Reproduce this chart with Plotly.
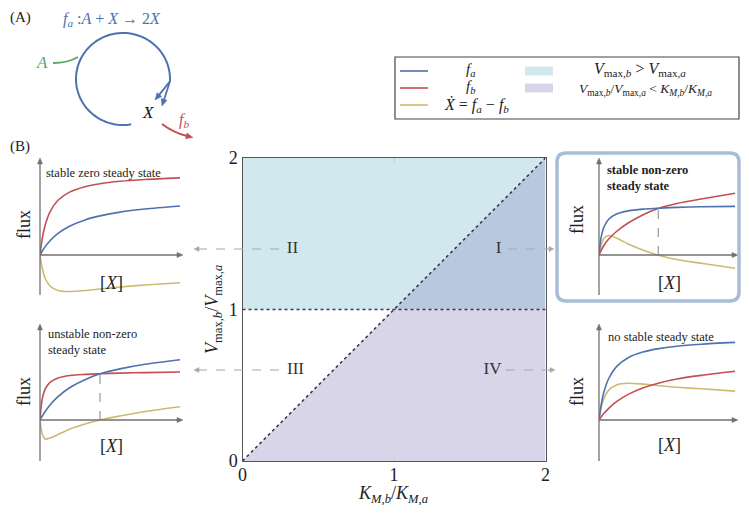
import numpy as np
import plotly.graph_objects as go

OX, OY = 8, 8  # page offset of the plot div inside the browser page
W, H = 749 - OX, 513 - 2 * OY
SERIF = "Liberation Serif, DejaVu Serif, serif"
BLUE = "#4C72B0"
RED = "#C44E52"
GOLD = "#CCB974"
GREEN = "#55A868"
C_VMAX = "#d1e8ef"
C_KM = "#d9d5e8"
C_BOTH = "#b7c9df"

# ---- phase diagram data ----
ratio_ticks = [0, 1, 2]
region_I_x = [1, 2, 2]
region_I_y = [1, 2, 1]
region_II_x = [0, 0, 2, 1]
region_II_y = [1, 2, 2, 1]
region_IV_x = [0, 2, 2, 1]
region_IV_y = [0, 0, 1, 1]
diag_x = [0, 2]
diag_y = [0, 2]
vmax_x = [0, 2]
vmax_y = [1, 1]
region_labels = ["I", "II", "III", "IV"]
region_label_x = [1.69, 0.33, 0.35, 1.65]
region_label_y = [1.40, 1.40, 0.60, 0.60]

# ---- flux sketches, [X] vs flux (arbitrary units) ----
conc = [0, 2, 5, 10, 18, 30, 45, 60, 80, 105, 140]
# II: stable zero steady state
fa_II = [0, 3.5, 8.1, 14.3, 21.6, 29.0, 35.1, 39.1, 42.9, 46.0, 49.0]
fb_II = [0, 14.9, 29.3, 43.2, 54.7, 63.1, 68.3, 71.3, 73.7, 75.5, 77.1]
xd_II = [0, -12, -23, -31, -35.5, -36.5, -35.5, -34, -32, -30, -27.7]
# III: unstable non-zero steady state
fa_III = [0, 3.5, 8.3, 15.0, 23.4, 32.5, 40.3, 46.2, 51.1, 55.7, 60.3]
fb_III = [0, 19.6, 30.6, 37.7, 42.0, 44.5, 45.6, 46.2, 46.9, 47.4, 48.0]
xd_III = [0, -13, -19, -18, -14.5, -9, -4, 0, 4, 8.5, 13.3]
ss_III = [60, 46.2]
# I: stable non-zero steady state
fa_I = [0, 16.7, 27.8, 35.7, 40.9, 44.1, 45.9, 46.7, 47.6, 48.2, 48.6]
fb_I = [0, 4, 9.5, 16, 23.5, 32, 40, 46.3, 51.5, 56, 61.7]
xd_I = [0, 9, 16.5, 19.5, 17, 11, 5, 0, -4.5, -8.3, -13.3]
ss_I = [61, 46.6]
# IV: no stable steady state
fa_IV = [0, 13.8, 27.7, 41.5, 53.4, 62.3, 67.9, 71.1, 73.8, 75.8, 77.6]
fb_IV = [0, 2.7, 6.4, 11.6, 18.3, 25.6, 32.0, 36.6, 41.0, 44.6, 48.7]
xd_IV = [0, 11.1, 21.3, 29.9, 35.1, 36.7, 35.9, 34.5, 32.8, 31.2, 28.9]


def X(p):
    return (p - OX) / W


def Y(p):
    return 1 - (p - OY) / H


def path(pts, close=False):
    s = "M " + " L ".join(f"{X(a):.5f},{Y(b):.5f}" for a, b in pts)
    return s + (" Z" if close else "")


shapes = []


def arrowhead(tip, tail, col, length=7, half=3):
    # small filled triangle at tip, pointing away from tail (page pixels)
    d = np.array(tip, float) - np.array(tail, float)
    d /= np.hypot(*d)
    n = np.array([-d[1], d[0]])
    base = np.array(tip) - d * length
    pts = [tuple(base + n * half), tuple(tip), tuple(base - n * half)]
    shapes.append(dict(type="path", xref="paper", yref="paper", path=path(pts, True),
                       fillcolor=col, line=dict(color=col, width=0.5)))


def seg(p0, p1, col, width=1.3, dash="solid"):
    shapes.append(dict(type="line", xref="paper", yref="paper", x0=X(p0[0]), x1=X(p1[0]),
                       y0=Y(p0[1]), y1=Y(p1[1]), line=dict(color=col, width=width, dash=dash)))


fig = go.Figure()

# main phase diagram
for xs, ys, col in [(region_II_x, region_II_y, C_VMAX),
                    (region_IV_x, region_IV_y, C_KM),
                    (region_I_x, region_I_y, C_BOTH)]:
    fig.add_trace(go.Scatter(x=xs, y=ys, fill="toself", fillcolor=col, mode="none",
                             hoverinfo="skip", showlegend=False))
for xs, ys in [(diag_x, diag_y), (vmax_x, vmax_y)]:
    fig.add_trace(go.Scatter(x=xs, y=ys, mode="lines", showlegend=False,
                             line=dict(color="#3a3a4a", width=1.6, dash="dot")))
fig.add_trace(go.Scatter(x=region_label_x, y=region_label_y, text=region_labels, mode="text",
                         textfont=dict(family=SERIF, size=17, color="#333"), showlegend=False))

panels = [
    (2, conc, fa_II, fb_II, xd_II, None, (40, 183), (158, 295), (-40, 97)),
    (3, conc, fa_III, fb_III, xd_III, ss_III, (40, 183), (324, 461), (-41, 96)),
    (4, conc, fa_I, fb_I, xd_I, ss_I, (599, 738), (158, 295), (-40, 97)),
    (5, conc, fa_IV, fb_IV, xd_IV, None, (599, 738), (324, 461), (-41, 96)),
]

ann = []
layout_axes = {}
AX_COL = "#707070"
for k, xs, fa, fb, xd, ss, dx, dy, yr in panels:
    xa, ya = f"x{k}", f"y{k}"
    if ss:
        fig.add_trace(go.Scatter(x=[ss[0], ss[0]], y=[0, ss[1]], mode="lines", xaxis=xa, yaxis=ya,
                                 line=dict(color="#999", width=1.2, dash="dash"), showlegend=False))
    for vals, col in [(xd, GOLD), (fb, RED), (fa, BLUE)]:
        fig.add_trace(go.Scatter(x=xs, y=vals, mode="lines", xaxis=xa, yaxis=ya, showlegend=False,
                                 line=dict(color=col, width=1.6, shape="spline", smoothing=0.8)))
    layout_axes[f"xaxis{k}"] = dict(domain=[X(dx[0]), X(dx[1])], range=[0, 143],
                                    visible=False, anchor=ya)
    layout_axes[f"yaxis{k}"] = dict(domain=[Y(dy[1]), Y(dy[0])], range=list(yr),
                                    visible=False, anchor=xa)
    oy = dy[0] + yr[1]
    seg((dx[0], oy), (dx[1] - 5, oy), AX_COL, 1.3)
    arrowhead((dx[1], oy), (dx[0], oy), AX_COL, 6, 2.5)
    seg((dx[0], dy[1]), (dx[0], dy[0] + 5), AX_COL, 1.3)
    arrowhead((dx[0], dy[0]), (dx[0], dy[1]), AX_COL, 6, 2.5)


def txt(x, y, s, size=15, color="#222", xanchor="center", angle=0, family=SERIF, align="center"):
    ann.append(dict(x=X(x), y=Y(y), xref="paper", yref="paper", text=s, showarrow=False,
                    xanchor=xanchor, yanchor="middle", textangle=angle, align=align,
                    font=dict(family=family, size=size, color=color)))


# panel texts
for fx, fy in [(24, 225), (24, 392), (577, 220), (577, 392)]:
    txt(fx, fy, "flux", size=18, angle=-90)
for fx, fy in [(111, 283), (111, 446), (669, 283), (669, 445)]:
    txt(fx, fy, "[<i>X</i>]", size=18)
txt(44, 173, "stable zero steady state", size=12.5, xanchor="left")
txt(46, 342, "unstable non-zero<br>steady state", size=12.5, xanchor="left", align="left")
txt(605, 178, "<b>stable non-zero<br>steady state</b>", size=12.5, xanchor="left", align="left")
txt(606, 337, "no stable steady state", size=12.5, xanchor="left")

# axis titles of main plot
txt(213, 310, "<i>V</i><sub>max,<i>b</i></sub>/<i>V</i><sub>max,<i>a</i></sub>", size=18, angle=-90)
txt(393, 494, "<i>K</i><sub><i>M</i>,<i>b</i></sub>/<i>K</i><sub><i>M</i>,<i>a</i></sub>", size=18)

# panel letters
txt(8, 17, "(A)", size=15, xanchor="left")
txt(8, 146, "(B)", size=15, xanchor="left")

# reaction diagram
txt(112, 19, "<i>f</i><sub><i>a</i></sub> :<i>A</i> + <i>X</i> → 2<i>X</i>", size=16, color=BLUE)
txt(42, 63, "<i>A</i>", size=17, color=GREEN)
txt(148, 112, "<i>X</i>", size=17, color="#111")
txt(184, 120, "<i>f</i><sub><i>b</i></sub>", size=16, color=RED)

t = np.radians(np.linspace(80, 363, 90))
arc = list(zip(123 + 47 * np.cos(t), 79 + 46 * np.sin(t)))
shapes.append(dict(type="path", path=path(arc), xref="paper", yref="paper",
                   line=dict(color=BLUE, width=2)))
end = arc[-1]
for tip in [(155, 100), (162, 106)]:
    d = np.array(tip) - np.array(end)
    seg(end, tuple(np.array(tip) - d / np.hypot(*d) * 5), BLUE, 1.8)
    arrowhead(tip, end, BLUE, 7, 3)
shapes.append(dict(type="path", xref="paper", yref="paper", line=dict(color=GREEN, width=2),
                   path=f"M {X(53)},{Y(63)} Q {X(68)},{Y(63)} {X(78)},{Y(57)}"))
shapes.append(dict(type="path", xref="paper", yref="paper", line=dict(color=RED, width=2),
                   path=f"M {X(162)},{Y(124)} Q {X(174)},{Y(133)} {X(187)},{Y(136)}"))
arrowhead((193, 137.5), (185, 135.5), RED, 7, 3)

# dashed connectors
GR = "#a8a8a8"
for yy, x0, x1 in [(249, 195, 281), (370, 195, 280)]:
    seg((x0 + 3, yy), (x1, yy), GR, 1.2, "dash")
    arrowhead((x0 - 1, yy), (x0 + 5, yy), GR, 5, 2.5)
for yy, x0, x1 in [(249, 508, 553), (370, 506, 554)]:
    seg((x0, yy), (x1 - 3, yy), GR, 1.2, "dash")
    arrowhead((x1 + 1, yy), (x1 - 5, yy), GR, 5, 2.5)

# highlight box around panel I
bx0, by0, bx1, by1, r = 557, 153, 739, 301, 9
rr = (f"M {X(bx0 + r)},{Y(by0)} L {X(bx1 - r)},{Y(by0)} Q {X(bx1)},{Y(by0)} {X(bx1)},{Y(by0 + r)} "
      f"L {X(bx1)},{Y(by1 - r)} Q {X(bx1)},{Y(by1)} {X(bx1 - r)},{Y(by1)} "
      f"L {X(bx0 + r)},{Y(by1)} Q {X(bx0)},{Y(by1)} {X(bx0)},{Y(by1 - r)} "
      f"L {X(bx0)},{Y(by0 + r)} Q {X(bx0)},{Y(by0)} {X(bx0 + r)},{Y(by0)} Z")
shapes.append(dict(type="path", path=rr, xref="paper", yref="paper", line=dict(color="#a9bdd8", width=3.5)))

# legend box
shapes.append(dict(type="rect", xref="paper", yref="paper", x0=X(395), x1=X(739), y0=Y(57), y1=Y(119),
                   line=dict(color="#444", width=1.2), fillcolor="white", layer="below"))
for yy, col in [(71, BLUE), (88, RED), (105, GOLD)]:
    seg((400, yy), (428, yy), col, 1.6)
for yy, col in [(71, C_VMAX), (88, C_KM)]:
    shapes.append(dict(type="rect", xref="paper", yref="paper", x0=X(525), x1=X(553), y0=Y(yy - 4.5),
                       y1=Y(yy + 4.5), line=dict(width=0), fillcolor=col))
txt(470, 70, "<i>f</i><sub><i>a</i></sub>", size=15)
txt(470, 87, "<i>f</i><sub><i>b</i></sub>", size=15)
txt(476, 105, "<i>Ẋ</i> = <i>f</i><sub><i>a</i></sub> − <i>f</i><sub><i>b</i></sub>", size=16)
txt(640, 69, "<i>V</i><sub>max,<i>b</i></sub> > <i>V</i><sub>max,<i>a</i></sub>", size=16)
txt(645, 89, "<i>V</i><sub>max,<i>b</i></sub>/<i>V</i><sub>max,<i>a</i></sub> &lt; "
             "<i>K</i><sub><i>M</i>,<i>b</i></sub>/<i>K</i><sub><i>M</i>,<i>a</i></sub>", size=13.5)

fig.update_layout(
    width=W, height=H, margin=dict(l=0, r=0, t=0, b=0, pad=0, autoexpand=False),
    paper_bgcolor="white", plot_bgcolor="rgba(0,0,0,0)", showlegend=False,
    xaxis=dict(domain=[X(242.5), X(545.5)], range=[0, 2], tickvals=ratio_ticks, showgrid=False,
               zeroline=False, showline=True, mirror="ticks", linecolor="#555", linewidth=1.2,
               ticks="inside", ticklen=4, tickcolor="#c4ccd4", ticklabelstandoff=-3,
               tickfont=dict(family=SERIF, size=18, color="#222")),
    yaxis=dict(domain=[Y(461), Y(158)], range=[0, 2], tickvals=ratio_ticks, showgrid=False,
               zeroline=False, showline=True, mirror="ticks", linecolor="#555", linewidth=1.2,
               ticks="inside", ticklen=0, tickcolor="#c4ccd4",
               tickfont=dict(family=SERIF, size=18, color="#222")),
    annotations=ann, shapes=shapes,
    **layout_axes,
)

fig.write_html("out.html")
